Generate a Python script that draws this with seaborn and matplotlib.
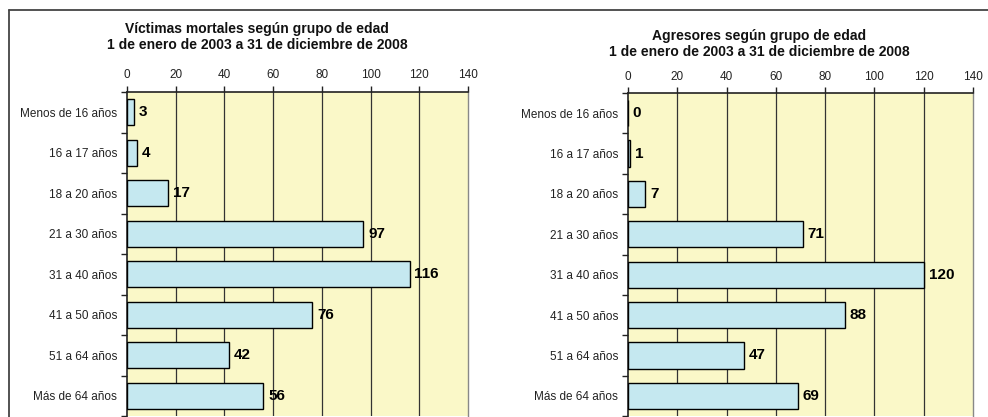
import matplotlib
matplotlib.use("Agg")
import matplotlib.pyplot as plt
from matplotlib.lines import Line2D
from matplotlib.ticker import FixedLocator
import seaborn as sns
import pandas as pd
import numpy as np

categorias = ["Menos de 16 años", "16 a 17 años", "18 a 20 años", "21 a 30 años",
              "31 a 40 años", "41 a 50 años", "51 a 64 años", "Más de 64 años"]
victimas = [3, 4, 17, 97, 116, 76, 42, 56]
agresores = [0, 1, 7, 71, 120, 88, 47, 69]
xticks = [0, 20, 40, 60, 80, 100, 120, 140]
titulo_victimas = "Víctimas mortales según grupo de edad\n1 de enero de 2003 a 31 de diciembre de 2008"
titulo_agresores = "Agresores según grupo de edad\n1 de enero de 2003 a 31 de diciembre de 2008"

sns.set_style("white")
plt.rcParams['font.family'] = ['Liberation Sans', 'DejaVu Sans']

W, H = 988, 417
fig = plt.figure(figsize=(W / 100, H / 100), dpi=100)
fig.patch.set_facecolor("white")

BAR = "#C5E8F0"
BG = "#FAF8C8"


def panel(rect, values, title, title_xy, tick_pad_y):
    ax = fig.add_axes(rect)
    df = pd.DataFrame({"cat": categorias, "val": values})
    sns.barplot(data=df, x="val", y="cat", orient="h", color=BAR, width=0.65,
                edgecolor="black", linewidth=1.0, saturation=1, ax=ax, zorder=3)
    ax.set_facecolor(BG)
    ax.set_xlim(0, 140)
    ax.set_ylim(len(categorias) - 0.5, -0.5)
    ax.set_xlabel("")
    ax.set_ylabel("")
    ax.xaxis.tick_top()
    ax.set_xticks(xticks)
    ax.set_xticklabels([str(t) for t in xticks], fontsize=8.5, color="#222222")
    ax.tick_params(axis="x", which="major", direction="out", length=4, width=1,
                   color="#222222", pad=tick_pad_y)
    ax.set_yticks(range(len(categorias)))
    ax.set_yticklabels(categorias, fontsize=8.5, color="#222222")
    ax.tick_params(axis="y", which="major", length=0, pad=7)
    ax.yaxis.set_minor_locator(FixedLocator(np.arange(-0.5, len(categorias), 1.0)))
    ax.tick_params(axis="y", which="minor", direction="out", length=4, width=1,
                   color="#222222", left=True)
    for g in xticks[1:-1]:
        ax.axvline(g, color="#333333", linewidth=0.9, zorder=1)
    for s in ["top", "left"]:
        ax.spines[s].set_visible(True)
        ax.spines[s].set_color("#222222")
        ax.spines[s].set_linewidth(1.2)
    ax.spines["right"].set_visible(True)
    ax.spines["right"].set_color("#888888")
    ax.spines["right"].set_linewidth(1.0)
    ax.spines["bottom"].set_visible(False)
    for i, v in enumerate(values):
        ax.annotate(str(v), xy=(v, i), xytext=(3.5, 0), textcoords="offset points",
                    va="center", ha="left", fontsize=11, fontweight="bold",
                    color="black", zorder=5)
    fig.text(title_xy[0], title_xy[1], title, ha="center", va="center",
             fontsize=10, fontweight="bold", linespacing=1.25, color="#111111")
    return ax


panel([127 / W, (H - 416) / H, 341 / W, (416 - 92) / H], victimas, titulo_victimas,
      (257 / W, 1 - 37 / H), 4)
panel([628 / W, (H - 416) / H, 345 / W, (416 - 93) / H], agresores, titulo_agresores,
      (759 / W, 1 - 44 / H), 3)

# outer frame
fig.add_artist(Line2D([8.5 / W, 8.5 / W], [0, 1 - 10 / H], color="#444444", linewidth=1.3,
                      transform=fig.transFigure))
fig.add_artist(Line2D([8.5 / W, 1], [1 - 10 / H, 1 - 10 / H], color="#444444", linewidth=1.3,
                      transform=fig.transFigure))

fig.savefig("out.png", dpi=100, facecolor="white")
